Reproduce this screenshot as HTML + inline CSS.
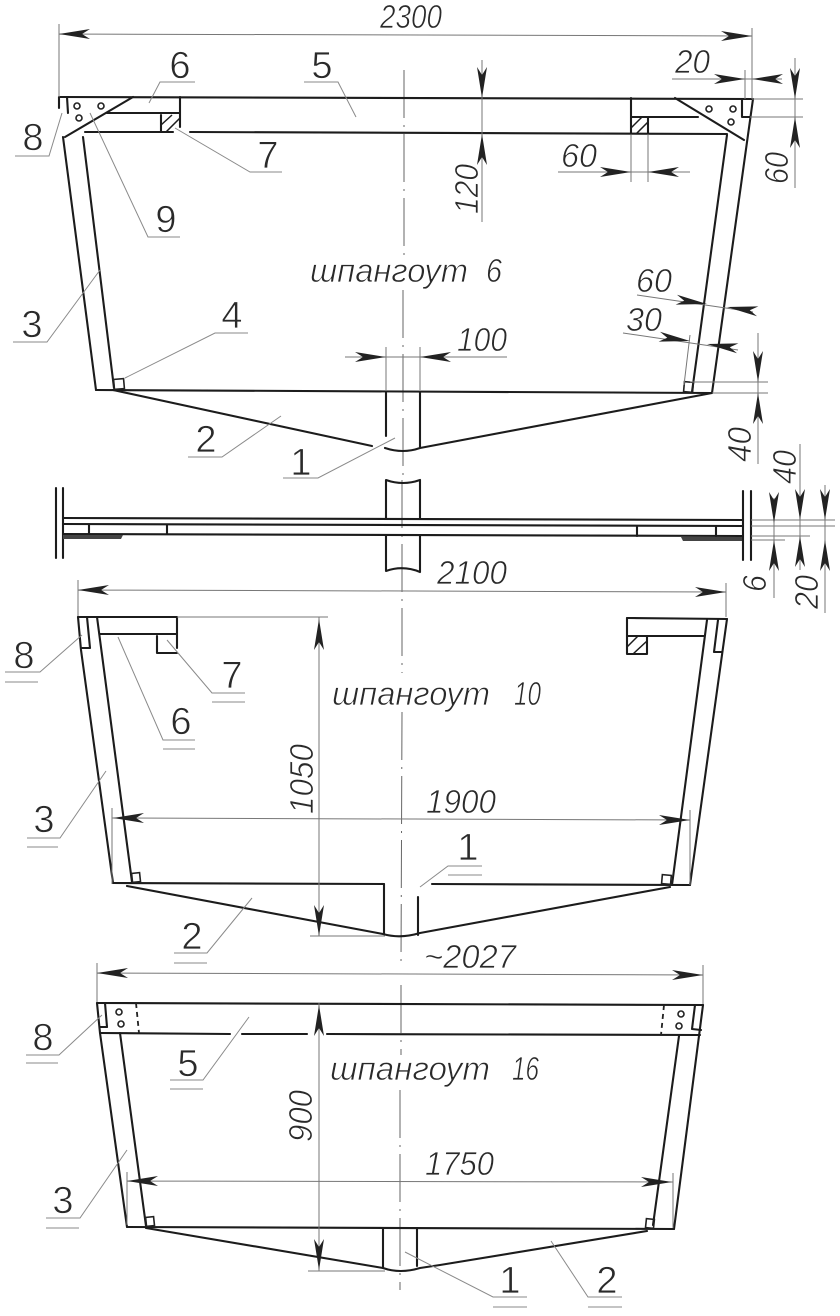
<!DOCTYPE html>
<html><head><meta charset="utf-8"><style>
html,body{margin:0;padding:0;background:#fff;width:840px;height:1316px;overflow:hidden}
svg{display:block;filter:blur(.35px)}
.k{stroke:#1c1c1c;stroke-width:2.1;fill:none;stroke-linecap:round;stroke-linejoin:round}
.t{stroke:#777;stroke-width:1;fill:none}
.l{stroke:#8a8a8a;stroke-width:1;fill:none}
.c{stroke:#666;stroke-width:1;fill:none;stroke-dasharray:48 7 2 7}
.d{stroke:#222;stroke-width:1.8;fill:none;stroke-dasharray:5 4}
.h{fill:none;stroke:#1c1c1c;stroke-width:1.5}
text{font-family:"Liberation Sans",sans-serif;fill:#2a2a2a;stroke:#fff;stroke-width:.7}
.n{font-size:38px;text-anchor:middle}
.i{font-size:33px;font-style:italic}
</style></head><body>
<svg width="840" height="1316" viewBox="0 0 840 1316" xmlns="http://www.w3.org/2000/svg">
<defs><path id="a" d="M0 0L-31 -5L-23 0L-31 5Z" fill="#222"/></defs>
<rect width="840" height="1316" fill="#fff"/>

<!-- centre line -->
<path class="c" d="M404 70L404 255M403 290L403 480M402 480L402 600L402 673"/>
<path class="c" d="M402 712L401 965M401 985L401 1055M400 1090L400 1290"/>

<!-- FRAME 6 -->
<g class="k">
<path d="M59 97L753 99"/>
<path d="M59 97L59 108M67 97L68 113"/>
<path d="M133 97L65 137"/>
<path d="M107 113L180 113M180 97L180 127"/>
<path d="M85 132L173 132M190 132L727 134"/>
<path d="M161 115L161 132"/>
<path d="M63 137L96 390M83 137L114 388"/>
<path d="M96 390L712 393"/>
<path d="M113 390L372 446M385 448Q403 454 420 448L712 393"/>
<path d="M386 392L386 436M420 392L420 447"/>
<path d="M753 99L712 393M727 135L692 392"/>
<path d="M675 98L744 140"/>
<path d="M631 117L698 117M631 98L631 134M648 117L648 134"/>
<path d="M742 99L742 117L750 117"/>
</g>
<path class="h" d="M161 125L172 115M166 132L180 118"/>
<path class="h" d="M631 128L642 117M636 134L648 122"/>
<g fill="none" stroke="#222" stroke-width="1.6">
<circle cx="77" cy="106" r="3"/><circle cx="101" cy="106" r="3"/><circle cx="79" cy="118" r="3"/>
<circle cx="709" cy="109" r="3"/><circle cx="733" cy="109" r="3"/><circle cx="731" cy="122" r="3"/>
<rect x="114" y="379" width="10" height="10" transform="rotate(-5 119 384)"/>
<rect x="684" y="382" width="9" height="10" transform="rotate(5 688 387)"/>
</g>

<!-- frame 6 dims -->
<g class="t">
<path d="M59 24L59 97M752 28L752 99M59 34L752 36"/>
<path d="M482 60L482 222"/>
<path d="M672 79L782 79M745 70L745 99"/>
<path d="M795 58L795 188M752 99L803 99M750 117L803 117"/>
<path d="M558 172L690 172M631 134L631 182M648 134L648 182"/>
<path d="M637 295L753 312"/>
<path d="M623 333L738 350M690 335L684 385"/>
<path d="M758 333L758 464M690 382L768 382M712 393L768 393"/>
<path d="M345 357L507 357M386 347L386 390M420 347L420 390"/>
</g>
<use href="#a" transform="translate(59,34) rotate(180)"/>
<use href="#a" transform="translate(752,36)"/>
<use href="#a" transform="translate(482,98) rotate(90)"/>
<use href="#a" transform="translate(482,134) rotate(-90)"/>
<use href="#a" transform="translate(745,79)"/>
<use href="#a" transform="translate(752,79) rotate(180)"/>
<use href="#a" transform="translate(795,99) rotate(90)"/>
<use href="#a" transform="translate(795,117) rotate(-90)"/>
<use href="#a" transform="translate(631,172)"/>
<use href="#a" transform="translate(648,172) rotate(180)"/>
<use href="#a" transform="translate(707,304) rotate(8)"/>
<use href="#a" transform="translate(727,307) rotate(188)"/>
<use href="#a" transform="translate(690,341) rotate(8)"/>
<use href="#a" transform="translate(707,344) rotate(188)"/>
<use href="#a" transform="translate(758,382) rotate(90)"/>
<use href="#a" transform="translate(758,393) rotate(-90)"/>
<use href="#a" transform="translate(386,357)"/>
<use href="#a" transform="translate(420,357) rotate(180)"/>

<!-- PLAN VIEW -->
<g class="k">
<path d="M56 488L56 558M63 488L63 558M743 491L743 560M751 491L751 560"/>
<path d="M63 518L743 520M63 524L743 526M63 534L743 536"/>
<path d="M89 525L89 534M167 525L167 534M637 527L637 536M716 527L716 536"/>
<path d="M386 518L386 480Q403 486 420 480L420 518M386 535L386 571Q403 565 420 572L420 535"/>
</g>
<path d="M63 535H123L121 539H63Z" fill="#444"/>
<path d="M681 537H742V541H683Z" fill="#444"/>
<g class="t">
<path d="M751 520L835 520M751 526L835 526M751 536L810 536M751 540L785 540"/>
<path d="M774 498L774 598M800 444L800 570M825 485L825 613"/>
<path d="M78 580L78 617M726 583L726 617M78 590L726 592"/>
</g>
<use href="#a" transform="translate(774,523) rotate(90)"/>
<use href="#a" transform="translate(774,540) rotate(-90)"/>
<use href="#a" transform="translate(800,520) rotate(90)"/>
<use href="#a" transform="translate(800,536) rotate(-90)"/>
<use href="#a" transform="translate(825,520) rotate(90)"/>
<use href="#a" transform="translate(825,540) rotate(-90)"/>
<use href="#a" transform="translate(78,590) rotate(180)"/>
<use href="#a" transform="translate(726,592)"/>

<!-- FRAME 10 -->
<g class="k">
<path d="M78 617L177 617M627 618L727 619"/>
<path d="M100 634L177 634M627 636L704 636M177 617L177 648"/>
<path d="M157 636L157 653L177 653"/>
<path d="M627 618L627 654L647 654L647 636"/>
<path d="M78 617L81 650L113 883M97 617L132 882"/>
<path d="M87 617L90 648L82 648"/>
<path d="M727 619L690 885M707 620L672 885"/>
<path d="M718 620L714 652L722 652"/>
<path d="M113 883L384 884M432 884L690 885"/>
<path d="M127 886L383 934Q400 939 420 933L670 887"/>
<path d="M384 884L384 934M418 897L418 935"/>
</g>
<path class="h" d="M627 647L638 636M633 654L647 641"/>
<g fill="none" stroke="#222" stroke-width="1.6">
<rect x="132" y="873" width="8" height="9" transform="rotate(-6 136 877)"/>
<rect x="662" y="875" width="9" height="9" transform="rotate(5 666 879)"/>
</g>
<g class="t">
<path d="M177 617L328 617M319 617L319 936M310 936L385 936"/>
<path d="M112 808L112 884M690 810L690 885M112 818L690 820"/>
<path d="M97 963L97 1003M703 965L703 1004M97 973L703 975"/>
</g>
<use href="#a" transform="translate(319,619) rotate(-90)"/>
<use href="#a" transform="translate(319,936) rotate(90)"/>
<use href="#a" transform="translate(113,818) rotate(180)"/>
<use href="#a" transform="translate(690,820)"/>
<use href="#a" transform="translate(97,973) rotate(180)"/>
<use href="#a" transform="translate(703,975)"/>

<!-- FRAME 16 -->
<g class="k">
<path d="M97 1003L703 1005"/>
<path d="M100 1033L230 1034M242 1034L307 1034M327 1034L700 1035"/>
<path d="M97 1003L100 1033L127 1227M120 1033L146 1226"/>
<path d="M105 1003L107 1027L100 1027"/>
<path d="M127 1227L674 1229"/>
<path d="M703 1005L674 1229M679 1036L653 1225"/>
<path d="M695 1005L692 1029L701 1030"/>
<path d="M146 1228L383 1268Q400 1274 420 1268L440 1265L647 1231"/>
<path d="M383 1228L383 1268M417 1228L417 1266"/>
</g>
<path class="d" d="M136 1003L139 1033M664 1005L661 1035"/>
<g fill="none" stroke="#222" stroke-width="1.6">
<circle cx="119" cy="1012" r="3"/><circle cx="121" cy="1024" r="3"/>
<circle cx="681" cy="1014" r="3"/><circle cx="679" cy="1026" r="3"/>
<rect x="146" y="1217" width="8" height="9" transform="rotate(-6 150 1221)"/>
<rect x="646" y="1219" width="8" height="9" transform="rotate(6 650 1223)"/>
</g>
<g class="t">
<path d="M319 1003L319 1271M308 1271L385 1271"/>
<path d="M127 1172L127 1225M673 1173L673 1228M127 1181L673 1182"/>
</g>
<use href="#a" transform="translate(319,1005) rotate(-90)"/>
<use href="#a" transform="translate(319,1270) rotate(90)"/>
<use href="#a" transform="translate(127,1181) rotate(180)"/>
<use href="#a" transform="translate(672,1182)"/>

<!-- leaders -->
<g class="l">
<path d="M195 82L160 82L149 103"/>
<path d="M304 82L338 82L356 117"/>
<path d="M15 156L49 156L62 113"/>
<path d="M282 172L250 172L175 128"/>
<path d="M180 237L148 237L90 113"/>
<path d="M13 342L47 342L100 270"/>
<path d="M248 333L215 333L125 378"/>
<path d="M188 457L222 457L281 416"/>
<path d="M283 478L318 478L395 438"/>
<path d="M5 672L40 672L82 635M5 682L38 682"/>
<path d="M245 693L212 693L167 640M212 702L245 702"/>
<path d="M195 740L163 740L118 637M163 749L195 749"/>
<path d="M27 838L60 838L106 771M27 847L58 847"/>
<path d="M174 953L207 953L252 898M174 963L207 963"/>
<path d="M482 866L448 866L420 887M448 875L482 875"/>
<path d="M26 1055L59 1055L102 1015M26 1063L58 1063"/>
<path d="M170 1080L203 1080L249 1017M170 1089L203 1089"/>
<path d="M46 1218L80 1218L127 1150M46 1228L79 1228"/>
<path d="M527 1297L493 1297L405 1252M493 1307L527 1307"/>
<path d="M622 1297L588 1297L551 1241M588 1307L622 1307"/>
</g>

<!-- number labels -->
<text class="n" x="180" y="78">6</text>
<text class="n" x="322" y="78">5</text>
<text class="n" x="33" y="150">8</text>
<text class="n" x="268" y="168">7</text>
<text class="n" x="166" y="232">9</text>
<text class="n" x="32" y="337">3</text>
<text class="n" x="232" y="328">4</text>
<text class="n" x="206" y="452">2</text>
<text class="n" x="301" y="475">1</text>
<text class="n" x="24" y="668">8</text>
<text class="n" x="232" y="688">7</text>
<text class="n" x="181" y="734">6</text>
<text class="n" x="44" y="832">3</text>
<text class="n" x="192" y="949">2</text>
<text class="n" x="468" y="860">1</text>
<text class="n" x="43" y="1050">8</text>
<text class="n" x="188" y="1076">5</text>
<text class="n" x="63" y="1213">3</text>
<text class="n" x="510" y="1293">1</text>
<text class="n" x="607" y="1293">2</text>

<!-- dimension text -->
<text class="i" x="380" y="28" textLength="62" lengthAdjust="spacingAndGlyphs">2300</text>
<text class="i" x="675" y="73" textLength="35" lengthAdjust="spacingAndGlyphs">20</text>
<text class="i" x="561" y="167" textLength="36" lengthAdjust="spacingAndGlyphs">60</text>
<text class="i" x="636" y="292" textLength="36" lengthAdjust="spacingAndGlyphs">60</text>
<text class="i" x="626" y="331" textLength="36" lengthAdjust="spacingAndGlyphs">30</text>
<text class="i" x="457" y="351" textLength="50" lengthAdjust="spacingAndGlyphs">100</text>
<text class="i" x="437" y="584" textLength="70" lengthAdjust="spacingAndGlyphs">2100</text>
<text class="i" x="426" y="813" textLength="70" lengthAdjust="spacingAndGlyphs">1900</text>
<text class="i" x="424" y="968" textLength="92" lengthAdjust="spacingAndGlyphs">~2027</text>
<text class="i" x="425" y="1175" textLength="69" lengthAdjust="spacingAndGlyphs">1750</text>
<text class="i" transform="translate(478,214) rotate(-90)" textLength="50" lengthAdjust="spacingAndGlyphs">120</text>
<text class="i" transform="translate(788,184) rotate(-90)" textLength="32" lengthAdjust="spacingAndGlyphs">60</text>
<text class="i" transform="translate(751,462) rotate(-90)" textLength="35" lengthAdjust="spacingAndGlyphs">40</text>
<text class="i" transform="translate(796,484) rotate(-90)" textLength="34" lengthAdjust="spacingAndGlyphs">40</text>
<text class="i" transform="translate(766,592) rotate(-90)" textLength="17" lengthAdjust="spacingAndGlyphs">6</text>
<text class="i" transform="translate(818,609) rotate(-90)" textLength="34" lengthAdjust="spacingAndGlyphs">20</text>
<text class="i" transform="translate(313,814) rotate(-90)" textLength="70" lengthAdjust="spacingAndGlyphs">1050</text>
<text class="i" transform="translate(312,1142) rotate(-90)" textLength="52" lengthAdjust="spacingAndGlyphs">900</text>

<!-- frame names -->
<text class="i" x="310" y="282" textLength="158" lengthAdjust="spacingAndGlyphs">шпангоут</text>
<text class="i" x="486" y="282" textLength="16" lengthAdjust="spacingAndGlyphs">6</text>
<text class="i" x="332" y="705" textLength="158" lengthAdjust="spacingAndGlyphs">шпангоут</text>
<text class="i" x="514" y="705" textLength="27" lengthAdjust="spacingAndGlyphs">10</text>
<text class="i" x="330" y="1080" textLength="160" lengthAdjust="spacingAndGlyphs">шпангоут</text>
<text class="i" x="512" y="1080" textLength="27" lengthAdjust="spacingAndGlyphs">16</text>
</svg>
</body></html>
